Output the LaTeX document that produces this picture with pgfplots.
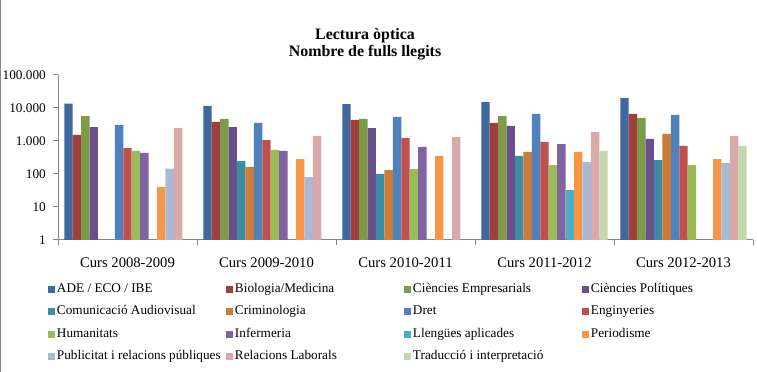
\documentclass[border=0pt]{standalone}
\usepackage{fontspec}
\setmainfont{Liberation Serif}
\usepackage{pgfplots}
\pgfplotsset{compat=1.18}
\definecolor{c1}{HTML}{3F689C}
\definecolor{c2}{HTML}{A0403E}
\definecolor{c3}{HTML}{7F9A48}
\definecolor{c4}{HTML}{69508A}
\definecolor{c5}{HTML}{3C8DA3}
\definecolor{c6}{HTML}{CD7C38}
\definecolor{c7}{HTML}{4F81BD}
\definecolor{c8}{HTML}{C0504D}
\definecolor{c9}{HTML}{9BBB59}
\definecolor{c10}{HTML}{8064A2}
\definecolor{c11}{HTML}{4BACC6}
\definecolor{c12}{HTML}{F79646}
\definecolor{c13}{HTML}{AAB9D6}
\definecolor{c14}{HTML}{D9AAA9}
\definecolor{c15}{HTML}{C6D6AC}
\definecolor{axisgray}{HTML}{868686}
\pgfplotsset{sqlegend/.style={legend image code/.code={\fill[##1] (0bp,-3.5bp) rectangle (7bp,3.5bp);}}}
\newcommand{\legent}[1]{\addlegendentry{\makebox[168bp][l]{#1}}}
\newcommand{\yl}[1]{\makebox[44bp][r]{#1}}
\begin{document}
\begin{tikzpicture}
\path[use as bounding box] (0,0) rectangle (757bp,372bp);
\fill[white] (0,0) rectangle (757bp,372bp);
\draw[color=axisgray, line width=1.2bp] (0.6bp,0) -- (0.6bp,372bp);
\node[font=\fontsize{16}{17.5}\selectfont\bfseries, align=center] at (365bp,327.5bp) {Lectura òptica\\Nombre de fulls llegits};
\begin{axis}[
  at={(58bp,132bp)}, anchor=south west,
  scale only axis, width=695bp, height=165bp,
  ymode=log, ymin=1, ymax=100000,
  xmin=-0.5, xmax=4.5,
  ybar=0pt, bar width=8.43bp,
  axis x line*=bottom, axis y line*=left,
  axis line style={draw=axisgray, line width=1bp, -},
  tick style={draw=axisgray, line width=1bp},
  tick align=outside,
  major tick length=5bp, minor tick length=5bp,
  ytick={1,10,100,1000,10000,100000},
  yticklabels={\yl{1},\yl{10},\yl{100},\yl{1.000},\yl{10.000},\yl{100.000}},
  yminorticks=false,
  xtick={0,1,2,3,4},
  xticklabels={Curs 2008-2009,Curs 2009-2010,Curs 2010-2011,Curs 2011-2012,Curs 2012-2013},
  major x tick style={draw=none},
  minor xtick={-0.5,0.5,1.5,2.5,3.5,4.5},
  yticklabel style={font=\fontsize{13.3}{15}\selectfont, anchor=east, inner xsep=0pt, xshift=-7bp},
  xticklabel style={font=\fontsize{14.7}{16}\selectfont, anchor=base, yshift=-23bp},
  every axis plot post/.append style={sqlegend},
  legend columns=4,
  legend cell align=left,
  legend style={at={(-0.0144,-0.2545)}, anchor=north west, draw=none, fill=none,
    inner sep=0pt, outer sep=0pt, row sep=8bp, column sep=0pt,
    font=\fontsize{13.3}{15}\selectfont,
    nodes={inner sep=1bp, text height=9.5bp, text depth=3bp},
    /tikz/every odd column/.append style={column sep=1bp}},
]
\addplot[fill=c1, draw=none] coordinates {(0,13500) (1,11500) (2,13200) (3,15100) (4,20000)}; \legent{ADE / ECO / IBE}
\addplot[fill=c2, draw=none] coordinates {(0,1520) (1,3800) (2,4350) (3,3550) (4,6600)}; \legent{Biologia/Medicina}
\addplot[fill=c3, draw=none] coordinates {(0,5700) (1,4650) (2,4650) (3,5700) (4,5000)}; \legent{Ciències Empresarials}
\addplot[fill=c4, draw=none] coordinates {(0,2650) (1,2650) (2,2470) (3,2850) (4,1150)}; \legent{Ciències Polítiques}
\addplot[fill=c5, draw=none] coordinates {(1,247) (2,100) (3,353) (4,265)}; \legent{Comunicació Audiovisual}
\addplot[fill=c6, draw=none] coordinates {(1,163) (2,132) (3,465) (4,1630)}; \legent{Criminologia}
\addplot[fill=c7, draw=none] coordinates {(0,3050) (1,3550) (2,5350) (3,6600) (4,6150)}; \legent{Dret}
\addplot[fill=c8, draw=none] coordinates {(0,610) (1,1070) (2,1230) (3,935) (4,710)}; \legent{Enginyeries}
\addplot[fill=c9, draw=none] coordinates {(0,500) (1,535) (2,141) (3,187) (4,187)}; \legent{Humanitats}
\addplot[fill=c10, draw=none] coordinates {(0,435) (1,500) (2,660) (3,810)}; \legent{Infermeria}
\addplot[fill=c11, draw=none] coordinates {(3,33)}; \legent{Llengües aplicades}
\addplot[fill=c12, draw=none] coordinates {(0,40) (1,283) (2,353) (3,465) (4,283)}; \legent{Periodisme}
\addplot[fill=c13, draw=none] coordinates {(0,145) (1,81) (3,230) (4,214)}; \legent{Publicitat i relacions públiques}
\addplot[fill=c14, draw=none] coordinates {(0,2470) (1,1420) (2,1320) (3,1870) (4,1420)}; \legent{Relacions Laborals}
\addplot[fill=c15, draw=none] coordinates {(3,500) (4,710)}; \legent{Traducció i interpretació}
\end{axis}
\end{tikzpicture}
\end{document}
